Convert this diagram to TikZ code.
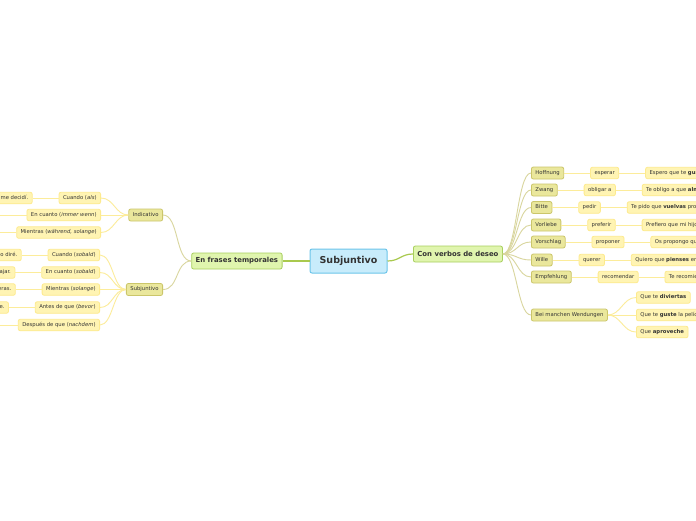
\documentclass[tikz,border=0pt]{standalone}
\usepackage{fontspec}
\setmainfont{DejaVu Sans}
\usetikzlibrary{positioning}

\definecolor{rootfill}{HTML}{C8ECFB}
\definecolor{rootline}{HTML}{6CC5EA}
\definecolor{mainfill}{HTML}{E0F5AE}
\definecolor{mainline}{HTML}{A8CF5E}
\definecolor{rootlinkcol}{HTML}{A9C94E}
\definecolor{subfill}{HTML}{EAE79C}
\definecolor{subline}{HTML}{CBC66A}
\definecolor{mainlinkcol}{HTML}{D9D69E}
\definecolor{leaffill}{HTML}{FFF4B3}
\definecolor{leafline}{HTML}{FDEA8E}
\definecolor{leaflinkcol}{HTML}{FCEC9A}
\definecolor{txt}{HTML}{333333}

\tikzset{
  box/.style={draw, rounded corners=2pt, line width=0.8pt, text=txt, inner xsep=4pt, inner ysep=3pt},
  rootbox/.style={box, fill=rootfill, draw=rootline, line width=1pt, font=\bfseries\fontsize{9.5}{10}\selectfont, minimum width=77pt, minimum height=24pt},
  mainbox/.style={box, fill=mainfill, draw=mainline, font=\bfseries\fontsize{6.9}{7}\selectfont, minimum height=16pt},
  subbox/.style={box, fill=subfill, draw=subline, font=\fontsize{5.3}{6}\selectfont, text height=4pt, text depth=1.2pt, minimum height=12pt},
  leafbox/.style={box, fill=leaffill, draw=leafline, font=\fontsize{5.3}{6}\selectfont, text height=4pt, text depth=1.2pt, minimum height=11.5pt},
  rootedge/.style={draw=rootlinkcol, line width=1.2pt},
  mainedge/.style={draw=mainlinkcol, line width=0.9pt},
  leafedge/.style={draw=leaflinkcol, line width=0.9pt},
}

\begin{document}
\begin{tikzpicture}[x=1pt, y=-1pt, node distance=26pt]
    \path[fill=white, use as bounding box] (0,0) rectangle (696,520);

    % centre and first level
    \node[rootbox] (root) at (348.5,261) {Subjuntivo};
    \node[mainbox, left=27pt of root] (frases) {En frases temporales};
    \node[mainbox, anchor=west] (deseo) at (413,254) {Con verbos de deseo};
    \draw[rootedge] (root.west) -- (frases.east);
    \draw[rootedge] (root.east) .. controls +(12,0) and +(-12,0) .. (deseo.west);

    % left: frases temporales
    \node[subbox, anchor=east] (ind) at (163,215) {Indicativo};
    \node[subbox, anchor=east] (subj) at (163,289.5) {Subjuntivo};
    \draw[mainedge] (frases.west) .. controls +(-16,0) and +(16,0) .. (ind.east);
    \draw[mainedge] (frases.west) .. controls +(-16,0) and +(16,0) .. (subj.east);

    \node[leafbox, anchor=east] (cuandoals) at (101,198) {Cuando (\textit{als})};
    \node[leafbox, anchor=east] (cuantoind) at (101,215) {En cuanto (\textit{immer wenn})};
    \node[leafbox, anchor=east] (mientrasind) at (101,232.5) {Mientras (\textit{während, solange})};
    \node[leafbox, left=of cuandoals] (excuandoals) {Cuando lo vi, me decidí.};
    \coordinate (excuantoind) at (0,215);
    \coordinate (exmientrasind) at (0,232.5);
    \draw[leafedge] (ind.west) .. controls +(-13,0) and +(13,0) .. (cuandoals.east);
    \draw[leafedge] (ind.west) -- (cuantoind.east);
    \draw[leafedge] (ind.west) .. controls +(-13,0) and +(13,0) .. (mientrasind.east);
    \draw[leafedge] (cuandoals.west) -- (excuandoals.east);
    \draw[leafedge] (cuantoind.west) -- (excuantoind);
    \draw[leafedge] (mientrasind.west) -- (exmientrasind);

    \node[leafbox, anchor=east] (cuandosub) at (100,255) {Cuando (\textit{sobald})};
    \node[leafbox, anchor=east] (cuantosub) at (100,272.5) {En cuanto (\textit{sobald})};
    \node[leafbox, anchor=east] (mientrassub) at (100,289.5) {Mientras (\textit{solange})};
    \node[leafbox, anchor=east] (antes) at (100,307.5) {Antes de que (\textit{bevor})};
    \node[leafbox, anchor=east] (despues) at (100,325) {Después de que (\textit{nachdem})};
    \node[leafbox, left=of cuandosub] (excuandosub) {Cuando llegue, te lo diré.};
    \node[leafbox, left=of cuantosub] (excuantosub) {En cuanto pueda, voy a viajar.};
    \node[leafbox, left=of mientrassub] (exmientrassub) {Mientras no llueva, iremos a las afueras.};
    \node[leafbox, left=of antes] (exantes) {Antes de que te vayas, llámame.};
    \coordinate (exdespues) at (0,325);
    \draw[leafedge] (subj.west) .. controls +(-13,0) and +(13,0) .. (cuandosub.east);
    \draw[leafedge] (subj.west) .. controls +(-13,0) and +(13,0) .. (cuantosub.east);
    \draw[leafedge] (subj.west) -- (mientrassub.east);
    \draw[leafedge] (subj.west) .. controls +(-13,0) and +(13,0) .. (antes.east);
    \draw[leafedge] (subj.west) .. controls +(-13,0) and +(13,0) .. (despues.east);
    \draw[leafedge] (cuandosub.west) -- (excuandosub.east);
    \draw[leafedge] (cuantosub.west) -- (excuantosub.east);
    \draw[leafedge] (mientrassub.west) -- (exmientrassub.east);
    \draw[leafedge] (antes.west) -- (exantes.east);
    \draw[leafedge] (despues.west) -- (exdespues);

    % right: verbos de deseo
    \node[subbox, anchor=west] (hoff) at (531,173) {Hoffnung};
    \node[leafbox, right=of hoff] (esperar) {esperar};
    \node[leafbox, right=of esperar] (exesperar) {Espero que te \textbf{guste} el regalo.};

    \node[subbox, anchor=west] (zwang) at (531,190) {Zwang};
    \node[leafbox, right=of zwang] (obligar) {obligar a};
    \node[leafbox, right=of obligar] (exobligar) {Te obligo a que \textbf{almuerces} conmigo.};

    \node[subbox, anchor=west] (bitte) at (531,207.5) {Bitte};
    \node[leafbox, right=of bitte] (pedir) {pedir};
    \node[leafbox, right=of pedir] (expedir) {Te pido que \textbf{vuelvas} pronto.};

    \node[subbox, anchor=west] (vorliebe) at (531,225) {Vorliebe};
    \node[leafbox, right=of vorliebe] (preferir) {preferir};
    \node[leafbox, right=of preferir] (expreferir) {Prefiero que mi hijo \textbf{estudie} más.};

    \node[subbox, anchor=west] (vorschlag) at (531,242) {Vorschlag};
    \node[leafbox, right=of vorschlag] (proponer) {proponer};
    \node[leafbox, right=of proponer] (exproponer) {Os propongo que \textbf{vengáis} a casa.};

    \node[subbox, anchor=west] (wille) at (531,260) {Wille};
    \node[leafbox, right=of wille] (querer) {querer};
    \node[leafbox, right=of querer] (exquerer) {Quiero que \textbf{pienses} en mí.};

    \node[subbox, anchor=west] (empf) at (531,277) {Empfehlung};
    \node[leafbox, right=of empf] (recomendar) {recomendar};
    \node[leafbox, right=of recomendar] (exrecomendar) {Te recomiendo que \textbf{leas} este libro.};

    \node[subbox, anchor=west] (wend) at (531,315) {Bei manchen Wendungen};
    \node[leafbox, anchor=west] (divertir) at (636,297.5) {Que te \textbf{diviertas}};
    \node[leafbox, anchor=west] (gustar) at (636,315) {Que te \textbf{guste} la película};
    \node[leafbox, anchor=west] (aprovechar) at (636,332) {Que \textbf{aproveche}};

    \foreach \n in {hoff,zwang,bitte,vorliebe,vorschlag,wille,empf,wend}
        \draw[mainedge] (deseo.east) .. controls +(14,0) and +(-14,0) .. (\n.west);

    \draw[leafedge] (hoff.east) -- (esperar.west) (esperar.east) -- (exesperar.west);
    \draw[leafedge] (zwang.east) -- (obligar.west) (obligar.east) -- (exobligar.west);
    \draw[leafedge] (bitte.east) -- (pedir.west) (pedir.east) -- (expedir.west);
    \draw[leafedge] (vorliebe.east) -- (preferir.west) (preferir.east) -- (expreferir.west);
    \draw[leafedge] (vorschlag.east) -- (proponer.west) (proponer.east) -- (exproponer.west);
    \draw[leafedge] (wille.east) -- (querer.west) (querer.east) -- (exquerer.west);
    \draw[leafedge] (empf.east) -- (recomendar.west) (recomendar.east) -- (exrecomendar.west);

    \draw[leafedge] (wend.east) .. controls +(13,0) and +(-13,0) .. (divertir.west);
    \draw[leafedge] (wend.east) -- (gustar.west);
    \draw[leafedge] (wend.east) .. controls +(13,0) and +(-13,0) .. (aprovechar.west);
\end{tikzpicture}
\end{document}
